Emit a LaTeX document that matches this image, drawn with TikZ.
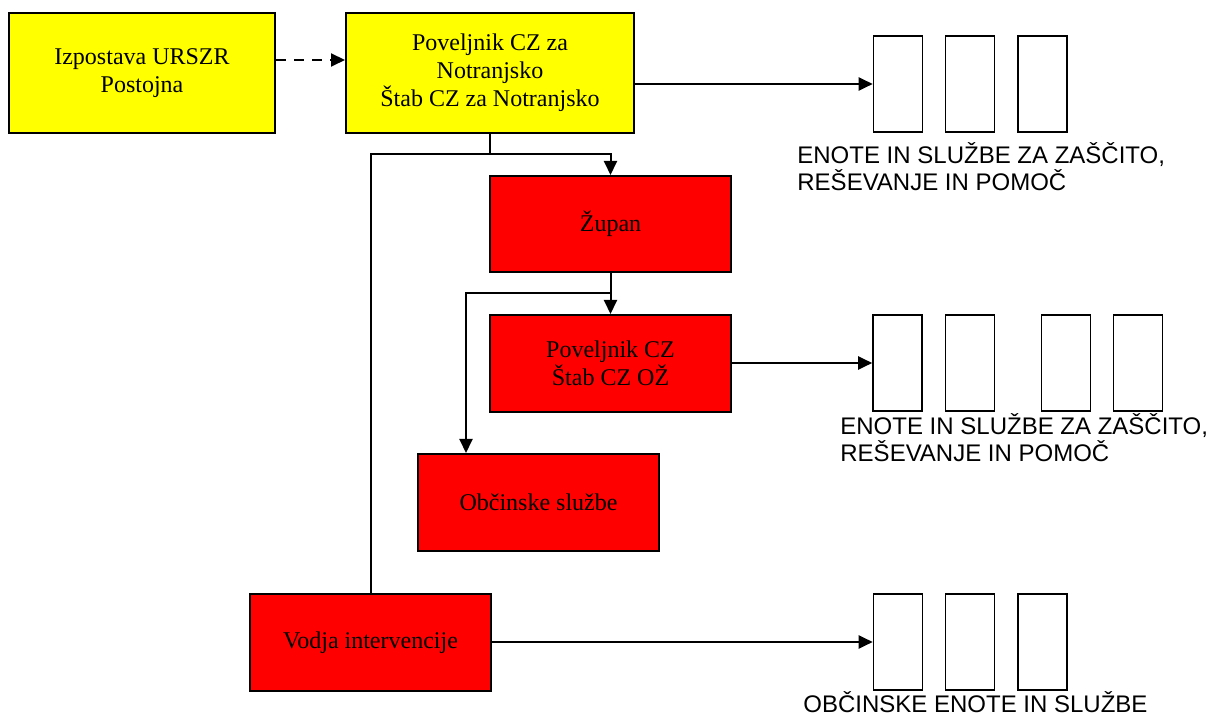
\documentclass[tikz,border=0pt]{standalone}
\usepackage{fontspec}
\setmainfont{Liberation Serif}
\setsansfont{Liberation Sans}
\usepackage{xcolor}
\definecolor{czyellow}{RGB}{255, 255, 0}
\definecolor{czred}{RGB}{255, 0, 0}
\usetikzlibrary{calc, arrows.meta}

\begin{document}
\begin{tikzpicture}[x=0.5pt, y=-0.5pt, >={Triangle[length=7pt, width=6.5pt]},
    organ/.style={draw=black, line width=1pt, align=center, inner sep=0pt,
        font=\fontsize{12}{14}\selectfont},
    unit/.style={draw=black, line width=0.8pt, fill=white, inner sep=0pt,
        minimum width=24.5pt, minimum height=48pt},
    link/.style={line width=1pt},
    caption/.style={font=\sffamily\fontsize{12}{13.5}\selectfont, align=left,
        inner sep=0pt, anchor=west}]

\useasboundingbox (0,0) rectangle (1206,715);

% === Regijska raven ===
\node[organ, fill=czyellow, minimum width=133pt, minimum height=60pt] (izp) at (142,73)
    {Izpostava URSZR\\Postojna};
\node[organ, fill=czyellow, minimum width=144pt, minimum height=60pt] (pov) at (490,73)
    {Poveljnik CZ za\\Notranjsko\\Štab CZ za Notranjsko};

% Dashed link (above centre line)
\coordinate (izpout) at ($(izp.east)+(0,-13)$);
\draw[link, dashed, dash pattern=on 5pt off 4pt, ->] (izpout) -- (izpout -| pov.west);

% === Občinska raven ===
\node[organ, fill=czred, minimum width=120.5pt, minimum height=48pt] (zupan) at (610.5,224) {Župan};
\node[organ, fill=czred, minimum width=120.5pt, minimum height=48.5pt] (czoz) at (610.5,363.5)
    {Poveljnik CZ\\Štab CZ OŽ};
\node[organ, fill=czred, minimum width=120.5pt, minimum height=48.5pt] (obc) at (538.5,502.5)
    {Občinske službe};
\node[organ, fill=czred, minimum width=120.5pt, minimum height=48.5pt] (vodja) at (370.5,642.5)
    {Vodja intervencije};

% Razcep pod regijo
\coordinate (topsplit) at ($(pov.south)+(0,20)$);
\draw[link] (pov.south) -- (topsplit);
\draw[link, ->] (topsplit) -| (zupan.north);
\draw[link] (topsplit) -| (vodja.north);

% Razcep pod županom
\coordinate (midsplit) at ($(zupan.south)+(0,20)$);
\draw[link, ->] (zupan.south) -- (czoz.north);
\draw[link, ->] (midsplit) -| ($(obc.north west)+(49,0)$);

% === Enote in službe ===
\foreach \x [count=\i] in {898, 970, 1042.5} {
    \node[unit] (ua\i) at (\x,84) {};
    \node[unit] (uc\i) at (\x,642) {};
}
\foreach \x [count=\i] in {897.5, 970, 1066, 1138} {
    \node[unit] (ub\i) at (\x,363) {};
}

\draw[link, ->] (ua1.west -| pov.east) -- (ua1.west);
\draw[link, ->] (ub1.west -| czoz.east) -- (ub1.west);
\draw[link, ->] (uc1.west -| vodja.east) -- (uc1.west);

% Napisi
\node[caption] (capa) at (797,167) {ENOTE IN SLUŽBE ZA ZAŠČITO,\\REŠEVANJE IN POMOČ};
\node[caption] (capb) at (840,438) {ENOTE IN SLUŽBE ZA ZAŠČITO,\\REŠEVANJE IN POMOČ};
\node[caption, anchor=base west] (capc) at (803,712.5) {OBČINSKE ENOTE IN SLUŽBE};

\end{tikzpicture}
\end{document}
